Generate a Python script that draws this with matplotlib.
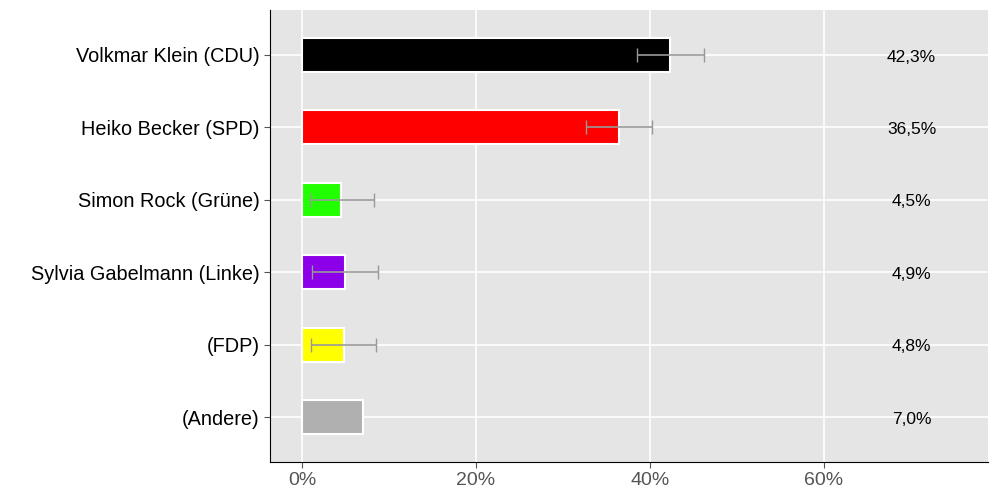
import matplotlib
matplotlib.use("Agg")
import matplotlib.pyplot as plt
from matplotlib.ticker import FuncFormatter

plt.rcParams['font.family'] = ['Liberation Sans', 'DejaVu Sans']

candidates = ["Volkmar Klein (CDU)", "Heiko Becker (SPD)", "Simon Rock (Grüne)",
              "Sylvia Gabelmann (Linke)", "(FDP)", "(Andere)"]
values = [42.3, 36.5, 4.5, 4.9, 4.8, 7.0]
err_low = [38.5, 32.6, 0.9, 1.1, 1.0, None]
err_high = [46.2, 40.3, 8.3, 8.7, 8.5, None]
colors = ["#000000", "#ff0000", "#22ff00", "#8b00e8", "#ffff00", "#b0b0b0"]
labels = ["42,3%", "36,5%", "4,5%", "4,9%", "4,8%", "7,0%"]

fig = plt.figure(figsize=(10, 5), dpi=100)
ax = fig.add_axes([0.27, 0.076, 0.718, 0.904])
ax.set_facecolor("#e5e5e5")
y = list(range(len(candidates)))
ax.barh(y, values, height=0.47, color=colors, edgecolor="white", linewidth=1.5, zorder=3)
for i in y:
    if err_low[i] is not None:
        ax.errorbar([values[i]], [i], xerr=[[values[i]-err_low[i]], [err_high[i]-values[i]]],
                    fmt='none', ecolor="#999999", elinewidth=1.2, capsize=5, zorder=4)
    ax.text(70.1, i + 0.03, labels[i], ha='center', va='center', fontsize=12.5, zorder=5)
ax.set_yticks(y)
ax.set_yticklabels(candidates, fontsize=14.3)
ax.set_ylim(len(candidates)-0.38, -0.62)
ax.set_xlim(-3.7, 78.9)
ax.set_xticks([0, 20, 40, 60])
ax.xaxis.set_major_formatter(FuncFormatter(lambda v, p: f"{v:.0f}%"))
ax.tick_params(axis='x', labelsize=14, colors="#555555", length=4)
ax.tick_params(axis='y', length=4, color="#555555")
ax.grid(True, color="white", linewidth=1.2, zorder=0)
ax.set_axisbelow(True)
for s in ["top", "right"]:
    ax.spines[s].set_visible(False)
fig.savefig("out.png")
